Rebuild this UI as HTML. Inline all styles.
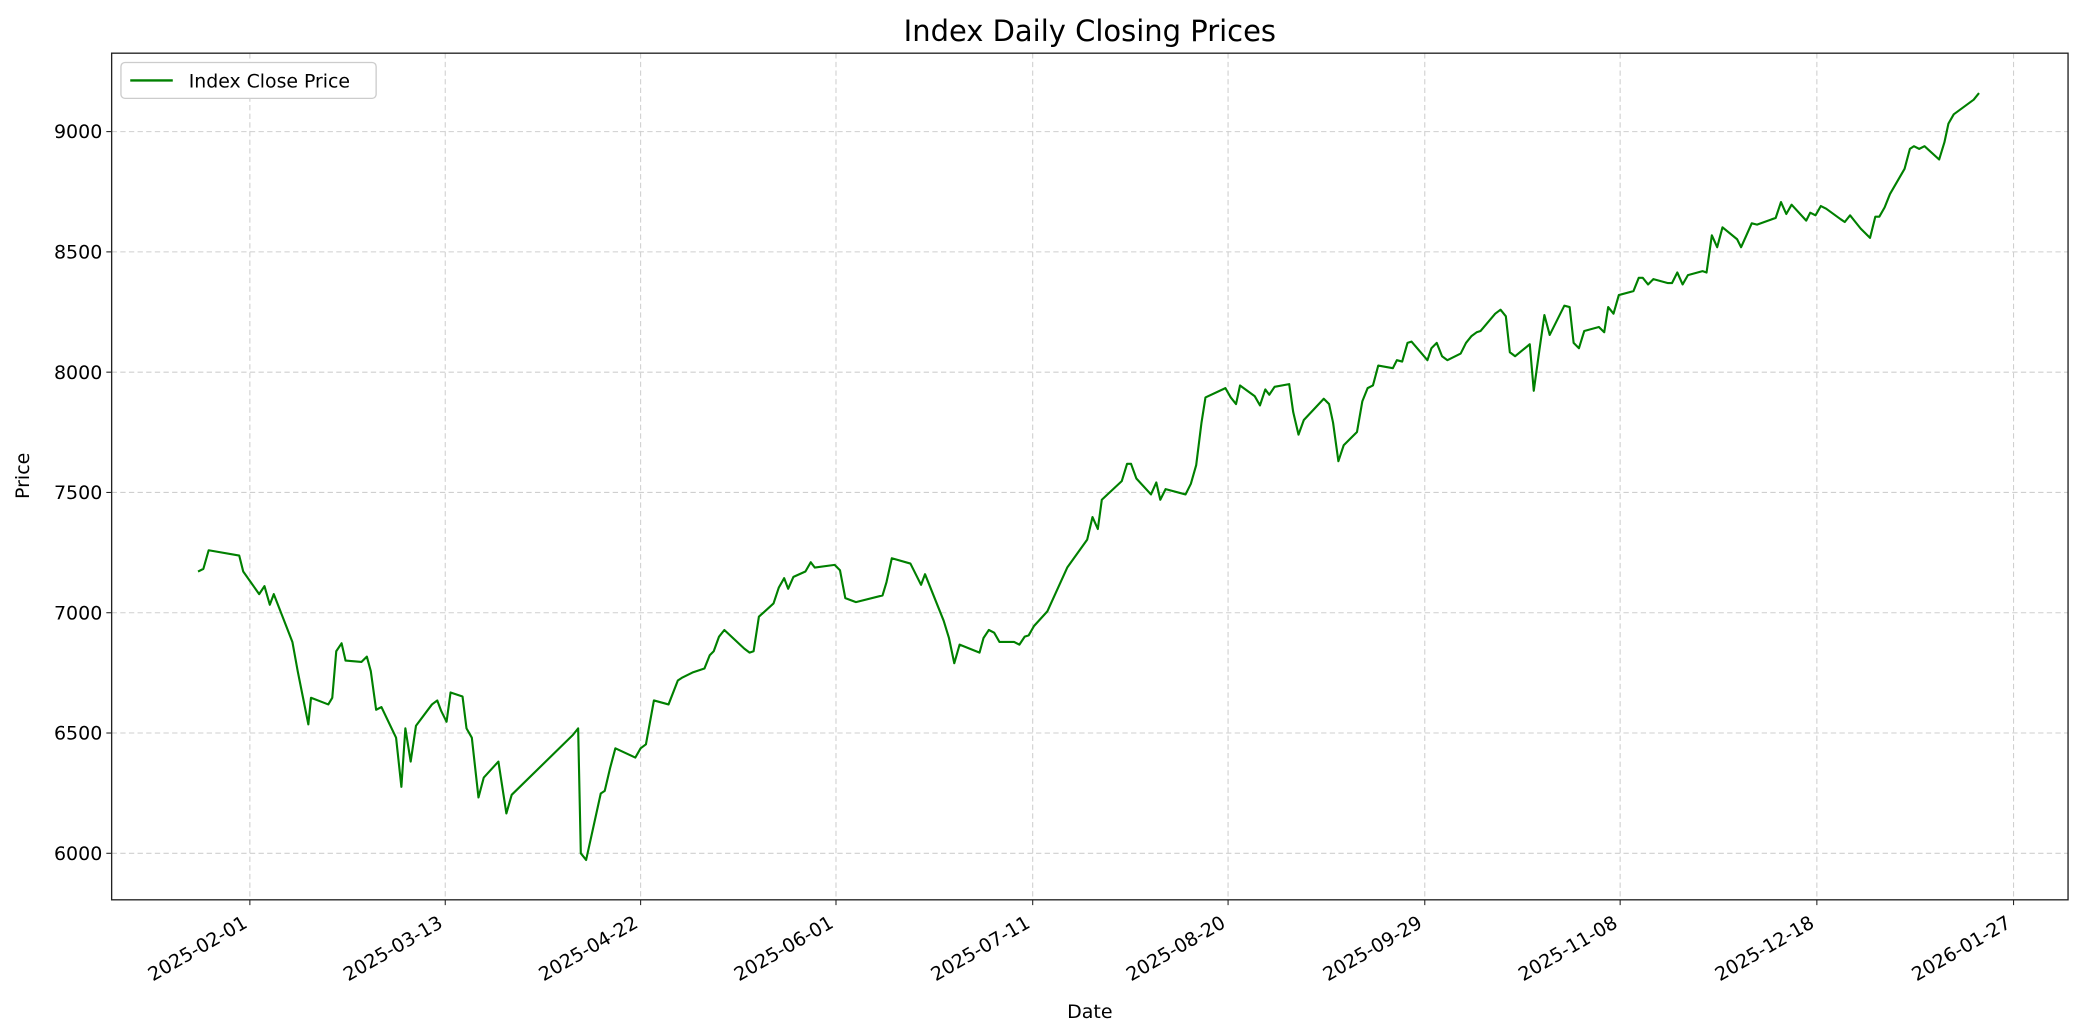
<!DOCTYPE html>
<html><head><meta charset="utf-8"><style>html,body{margin:0;padding:0;background:#fff}svg{display:block}</style></head>
<body>
<svg width="2084" height="1035" viewBox="0 0 1568 778.7" xmlns="http://www.w3.org/2000/svg" font-family="DejaVu Sans, Liberation Sans, sans-serif">
<rect width="1568" height="779" fill="#fff"/>
<g stroke="#cfcfcf" stroke-width="0.8" stroke-dasharray="4,2.5">
<line x1="188" y1="40" x2="188" y2="677"/><line x1="335" y1="40" x2="335" y2="677"/><line x1="482" y1="40" x2="482" y2="677"/><line x1="629" y1="40" x2="629" y2="677"/><line x1="777" y1="40" x2="777" y2="677"/><line x1="924" y1="40" x2="924" y2="677"/><line x1="1072" y1="40" x2="1072" y2="677"/><line x1="1219" y1="40" x2="1219" y2="677"/><line x1="1367" y1="40" x2="1367" y2="677"/><line x1="1515" y1="40" x2="1515" y2="677"/>
<line x1="84" y1="642" x2="1556" y2="642"/><line x1="84" y1="551.5" x2="1556" y2="551.5"/><line x1="84" y1="461" x2="1556" y2="461"/><line x1="84" y1="370.5" x2="1556" y2="370.5"/><line x1="84" y1="280" x2="1556" y2="280"/><line x1="84" y1="189.5" x2="1556" y2="189.5"/><line x1="84" y1="99" x2="1556" y2="99"/>
</g>
<polyline fill="none" stroke="#008000" stroke-width="1.6" stroke-linejoin="round" points="149,430 153,428 157,414 180,418 183,430 195,447 199,441 203,455 206,447 220,483 224,505 232,545 234,525 247,530 250,525 253,490 257,484 260,497 272,498 276,494 279,505 283,534 287,532 298,555 302,592 305,548 309,573 313,546 325,530 329,527 332,535 336,543 339,521 348,524 351,548 355,555 360,600 364,585 375,573 381,612 385,598 431,553 435,548 437,642 441,647 452,597 455,595 459,578 463,563 478,570 482,563 486,560 492,527 503,530 510,512 513,510 521,506 530,503 534,493 537,490 541,479 545,474 560,488 564,491 567,490 571,464 582,454 586,442 590,435 593,443 597,434 606,430 610,423 613,427 628,425 632,429 636,450 644,453 664,448 667,438 671,420 685,424 689,432 693,440 696,432 710,467 714,480 718,499 722,485 737,491 740,480 744,474 748,476 752,483 763,483 767,485 771,479 774,478 778,471 788,460 803,427 818,406 822,389 826,398 829,376 844,362 848,349 851,349 855,360 866,372 870,363 873,376 877,368 892,372 896,364 900,350 904,318 907,299 922,292 926,299 930,304 933,290 944,298 948,305 952,293 955,297 959,291 970,289 973,310 977,327 981,316 996,300 1000,304 1003,318 1007,347 1011,335 1021,325 1025,302 1029,292 1033,290 1037,275 1048,277 1051,271 1055,272 1059,258 1062,257 1074,271 1077,262 1081,258 1085,268 1089,271 1099,266 1103,258 1107,253 1111,250 1114,249 1125,236 1129,233 1133,238 1136,265 1140,268 1151,259 1154,294 1158,265 1162,237 1166,252 1177,230 1181,231 1184,258 1188,262 1192,249 1203,246 1207,250 1210,231 1214,236 1218,222 1229,219 1233,209 1236,209 1240,214 1244,210 1255,213 1258,213 1262,205 1266,214 1270,207 1281,204 1284,205 1288,177 1292,186 1296,171 1307,180 1310,186 1314,177 1318,168 1322,169 1333,165 1336,164 1340,152 1344,161 1348,154 1359,166 1362,160 1366,162 1370,155 1374,157 1385,165 1388,167 1392,162 1396,167 1400,172 1407,179 1411,163 1414,163 1418,156 1422,146 1433,127 1437,112 1440,110 1444,112 1448,110 1459,120 1463,107 1466,93 1470,86 1485,75 1489,70"/>
<rect x="84" y="40" width="1472" height="637" fill="none" stroke="#222" stroke-width="1"/>
<g stroke="#222" stroke-width="0.8">
<line x1="188" y1="677" x2="188" y2="681"/><line x1="335" y1="677" x2="335" y2="681"/><line x1="482" y1="677" x2="482" y2="681"/><line x1="629" y1="677" x2="629" y2="681"/><line x1="777" y1="677" x2="777" y2="681"/><line x1="924" y1="677" x2="924" y2="681"/><line x1="1072" y1="677" x2="1072" y2="681"/><line x1="1219" y1="677" x2="1219" y2="681"/><line x1="1367" y1="677" x2="1367" y2="681"/><line x1="1515" y1="677" x2="1515" y2="681"/>
<line x1="80" y1="642" x2="84" y2="642"/><line x1="80" y1="551.5" x2="84" y2="551.5"/><line x1="80" y1="461" x2="84" y2="461"/><line x1="80" y1="370.5" x2="84" y2="370.5"/><line x1="80" y1="280" x2="84" y2="280"/><line x1="80" y1="189.5" x2="84" y2="189.5"/><line x1="80" y1="99" x2="84" y2="99"/>
</g>
<g font-size="14.3" fill="#000" text-anchor="end">
<text x="77" y="647">6000</text><text x="77" y="556.5">6500</text><text x="77" y="466">7000</text><text x="77" y="375.5">7500</text><text x="77" y="285">8000</text><text x="77" y="194.5">8500</text><text x="77" y="104">9000</text>
<text transform="translate(187,697) rotate(-30)">2025-02-01</text>
<text transform="translate(334,697) rotate(-30)">2025-03-13</text>
<text transform="translate(481,697) rotate(-30)">2025-04-22</text>
<text transform="translate(628,697) rotate(-30)">2025-06-01</text>
<text transform="translate(776,697) rotate(-30)">2025-07-11</text>
<text transform="translate(923,697) rotate(-30)">2025-08-20</text>
<text transform="translate(1071,697) rotate(-30)">2025-09-29</text>
<text transform="translate(1218,697) rotate(-30)">2025-11-08</text>
<text transform="translate(1366,697) rotate(-30)">2025-12-18</text>
<text transform="translate(1514,697) rotate(-30)">2026-01-27</text>
</g>
<text x="820" y="766" font-size="14.3" text-anchor="middle">Date</text>
<text transform="translate(22,358) rotate(-90)" font-size="14.3" text-anchor="middle">Price</text>
<text x="820" y="31" font-size="21.8" text-anchor="middle">Index Daily Closing Prices</text>
<rect x="91" y="47" width="192" height="27" rx="3" fill="#fff" stroke="#ccc" stroke-width="1"/>
<line x1="98" y1="60.5" x2="130" y2="60.5" stroke="#008000" stroke-width="1.8"/>
<text x="142" y="66" font-size="14.2">Index Close Price</text>
</svg>
</body></html>
